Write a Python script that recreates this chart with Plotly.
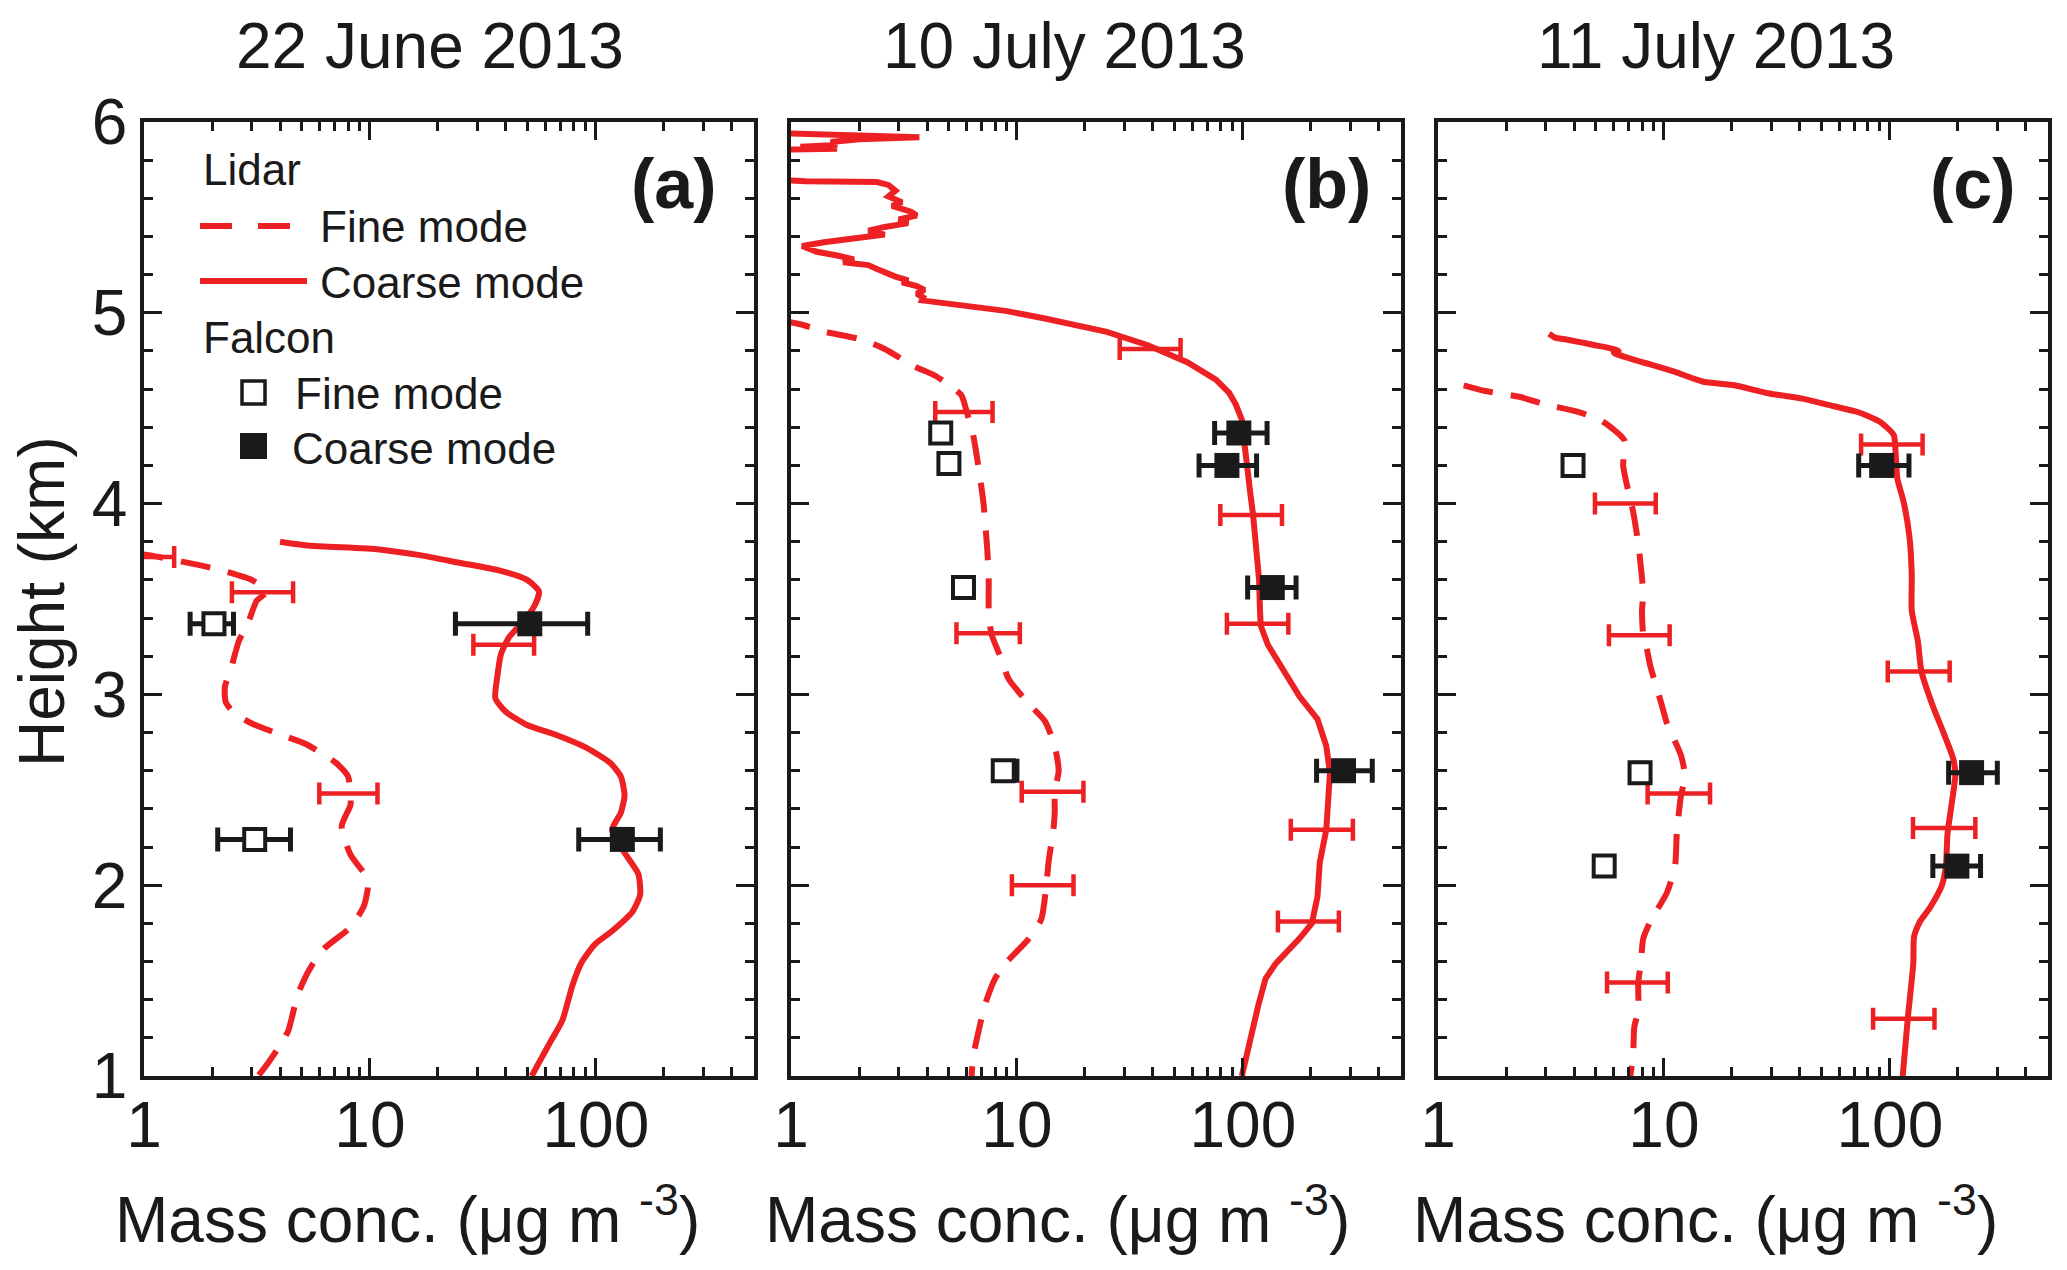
import plotly.graph_objects as go
from plotly.subplots import make_subplots

# ---- panel (a) 22 June 2013 ----
a_fine_x = [0.9, 1.05, 1.8, 2.2, 3.0, 3.5, 3.15, 2.9, 2.63, 2.42, 2.28, 2.3, 2.47, 2.97, 4.0, 5.2,
            7.1, 8.0, 8.2, 8.2, 7.5, 8.2, 9.7, 9.8, 9.4, 8.2, 6.3, 5.6, 5.0, 4.7, 4.36, 4.1, 3.55, 3.2]
a_fine_h = [3.74, 3.73, 3.675, 3.65, 3.6, 3.54, 3.49, 3.38, 3.28, 3.13, 3.04, 2.96, 2.91, 2.85, 2.79, 2.74,
            2.64, 2.57, 2.48, 2.42, 2.31, 2.16, 2.04, 1.99, 1.89, 1.78, 1.67, 1.59, 1.48, 1.39, 1.24, 1.18, 1.07, 1.0]
a_coarse_x = [4.0, 5.3, 11, 16.6, 24.9, 37.3, 49.6, 56, 53.8, 47.6, 41.3, 38, 36.6, 35.9, 39.8, 49.6, 66, 91,
              116, 129, 134, 129, 118, 134, 154, 157, 145, 118, 99, 86, 79, 71, 63, 56, 52]
a_coarse_h = [3.8, 3.78, 3.76, 3.73, 3.69, 3.65, 3.6, 3.54, 3.47, 3.38, 3.3, 3.21, 3.09, 2.98, 2.91, 2.84, 2.79, 2.72,
              2.64, 2.57, 2.47, 2.38, 2.29, 2.17, 2.06, 1.95, 1.86, 1.76, 1.69, 1.59, 1.48, 1.29, 1.18, 1.07, 1.0]
a_err_x = [1.05, 3.35, 39, 8.1]
a_err_lo = [0.8, 2.45, 28.7, 5.97]
a_err_hi = [1.36, 4.57, 53.3, 10.8]
a_err_h = [3.72, 3.535, 3.26, 2.48]
a_ffine_x = [2.04, 3.09]
a_ffine_lo = [1.6, 2.12]
a_ffine_hi = [2.49, 4.45]
a_ffine_h = [3.37, 2.24]
a_fcoarse_x = [51, 131]
a_fcoarse_lo = [23.9, 84]
a_fcoarse_hi = [92, 193]
a_fcoarse_h = [3.37, 2.24]

# ---- panel (b) 10 July 2013 ----
b_fine_x = [0.9, 1.1, 1.42, 2.05, 2.6, 3.5, 4.35, 5.66, 6.0, 6.4, 6.7, 7.1, 7.4, 7.5, 7.5, 7.7, 8.5, 9.2, 11.3,
            13.3, 14.7, 15.3, 14.7, 14.7, 14.5, 13.8, 13.5, 12.8, 11.3, 8.9, 8.0, 7.2, 6.9, 6.4, 6.3]
b_fine_h = [4.96, 4.94, 4.9, 4.86, 4.81, 4.72, 4.67, 4.57, 4.48, 4.36, 4.22, 4.01, 3.75, 3.6, 3.45, 3.32, 3.19, 3.08, 2.95,
            2.86, 2.73, 2.6, 2.49, 2.38, 2.29, 2.12, 2.0, 1.82, 1.72, 1.59, 1.51, 1.37, 1.28, 1.1, 1.0]
b_coarse_x = [0.5, 1.2, 2.5, 3.7, 2.0, 1.5, 1.6, 1.1, 1.6, 1.2, 0.5,
              0.5, 1.16, 2.4, 2.7, 2.9, 2.7, 3.1, 2.8, 3.4, 3.6, 3.0, 3.3, 2.6, 2.2, 2.6, 1.8, 1.4, 1.12,
              1.3, 1.6, 1.9, 1.7, 2.2, 2.4, 2.6, 2.9, 3.3, 3.1, 3.6, 3.9, 3.6, 3.85, 3.8, 5.4, 8.9, 13.3,
              25, 38, 57, 76, 87, 93, 99, 102, 105, 108, 111, 115, 118, 119, 120, 129, 152, 178, 214, 234,
              243, 238, 234, 219, 214, 202, 178, 140, 126, 117, 107, 99]
b_coarse_h = [5.95, 5.94, 5.93, 5.92, 5.91, 5.895, 5.88, 5.87, 5.86, 5.855, 5.85,
              5.71, 5.69, 5.685, 5.67, 5.64, 5.61, 5.58, 5.56, 5.53, 5.51, 5.49, 5.47, 5.45, 5.43, 5.41, 5.39, 5.37, 5.35,
              5.32, 5.3, 5.28, 5.265, 5.25, 5.23, 5.21, 5.19, 5.17, 5.16, 5.14, 5.12, 5.1, 5.08, 5.065, 5.04, 5.01, 4.97,
              4.9, 4.83, 4.74, 4.65, 4.58, 4.52, 4.44, 4.3, 4.2, 4.05, 3.94, 3.75, 3.6, 3.45, 3.36, 3.26, 3.12, 2.99, 2.87, 2.73,
              2.59, 2.38, 2.29, 2.12, 1.94, 1.8, 1.72, 1.59, 1.51, 1.37, 1.16, 1.0]
b_err_x = [39, 5.8, 109, 7.5, 116, 14.4, 224, 13, 195]
b_err_lo = [28.5, 4.35, 79.5, 5.4, 85, 10.5, 163, 9.5, 143]
b_err_hi = [53, 7.8, 149, 10.3, 159, 19.7, 307, 17.8, 266]
b_err_h = [4.81, 4.48, 3.94, 3.32, 3.37, 2.49, 2.29, 2.0, 1.81]
b_ffine_x = [4.6, 5.0, 5.8, 8.7]
b_ffine_lo = [4.4, 4.8, 5.4, 8.3]
b_ffine_hi = [4.8, 5.2, 6.4, 10.0]
b_ffine_h = [4.37, 4.21, 3.56, 2.6]
b_fcoarse_x = [96, 85, 135, 279]
b_fcoarse_lo = [75, 64, 105, 212]
b_fcoarse_hi = [128, 115, 172, 374]
b_fcoarse_h = [4.37, 4.2, 3.56, 2.6]

# ---- panel (c) 11 July 2013 ----
c_fine_x = [1.3, 1.62, 2.29, 2.98, 4.2, 5.37, 6.7, 6.6, 7.1, 7.3, 7.7, 7.9, 8.1, 8.0, 8.1, 8.4, 8.7, 9.7,
            10.3, 11.9, 12.4, 11.9, 11.4, 11.2, 10.3, 8.7, 8.1, 7.9, 7.7, 7.7, 7.4, 7.3, 7.1]
c_fine_h = [4.62, 4.59, 4.56, 4.52, 4.48, 4.43, 4.33, 4.2, 4.02, 3.96, 3.79, 3.67, 3.53, 3.44, 3.31, 3.24, 3.15, 2.96,
            2.85, 2.68, 2.57, 2.47, 2.27, 2.1, 1.96, 1.81, 1.72, 1.59, 1.49, 1.34, 1.26, 1.11, 1.0]
c_coarse_x = [3.1, 3.3, 3.7, 4.3, 4.95, 5.5, 6.3, 6.0, 7.1, 7.8, 8.7, 11.2, 14.8, 20.5, 28.4, 41, 56.6, 72, 90,
              104, 106, 108, 115, 122, 125, 125, 133, 138, 156, 170, 191, 195, 188, 180, 177, 170, 150, 136,
              128, 127, 120, 114]
c_coarse_h = [4.89, 4.87, 4.86, 4.845, 4.83, 4.82, 4.8, 4.79, 4.76, 4.745, 4.73, 4.69, 4.64, 4.62, 4.58, 4.55, 4.51,
              4.48, 4.43, 4.36, 4.27, 4.13, 4.01, 3.83, 3.63, 3.44, 3.28, 3.12, 2.93, 2.82, 2.66, 2.58, 2.43, 2.27,
              2.1, 2.0, 1.88, 1.81, 1.73, 1.59, 1.3, 1.0]
c_err_x = [102, 6.8, 7.8, 134, 11.6, 174, 7.6, 115]
c_err_lo = [74.6, 4.95, 5.71, 97.9, 8.47, 126.6, 5.6, 84.3]
c_err_hi = [139.6, 9.2, 10.6, 184, 16, 239, 10.4, 157.6]
c_err_h = [4.31, 4.0, 3.31, 3.12, 2.48, 2.3, 1.49, 1.3]
c_ffine_x = [3.96, 7.84, 5.44]
c_ffine_lo = [3.8, 7.5, 5.2]
c_ffine_hi = [4.1, 8.2, 5.7]
c_ffine_h = [4.2, 2.59, 2.1]
c_fcoarse_x = [92, 230, 198]
c_fcoarse_lo = [72.8, 182, 155]
c_fcoarse_hi = [121.5, 299, 252]
c_fcoarse_h = [4.2, 2.59, 2.1]

titles = ["22 June 2013", "10 July 2013", "11 July 2013"]
labels = ["(a)", "(b)", "(c)"]
x_ticks = [1, 10, 100]
x_minor = [2, 3, 4, 5, 6, 7, 8, 9, 20, 30, 40, 50, 60, 70, 80, 90, 200, 300, 400]

W, H = 2067, 1270
RED = "#ED2024"
BLK = "#1a1a1a"
FONT = "Liberation Sans, Arial, sans-serif"

panels = [
    (a_fine_x, a_fine_h, a_coarse_x, a_coarse_h, a_err_x, a_err_lo, a_err_hi, a_err_h,
     a_ffine_x, a_ffine_lo, a_ffine_hi, a_ffine_h, a_fcoarse_x, a_fcoarse_lo, a_fcoarse_hi, a_fcoarse_h),
    (b_fine_x, b_fine_h, b_coarse_x, b_coarse_h, b_err_x, b_err_lo, b_err_hi, b_err_h,
     b_ffine_x, b_ffine_lo, b_ffine_hi, b_ffine_h, b_fcoarse_x, b_fcoarse_lo, b_fcoarse_hi, b_fcoarse_h),
    (c_fine_x, c_fine_h, c_coarse_x, c_coarse_h, c_err_x, c_err_lo, c_err_hi, c_err_h,
     c_ffine_x, c_ffine_lo, c_ffine_hi, c_ffine_h, c_fcoarse_x, c_fcoarse_lo, c_fcoarse_hi, c_fcoarse_h),
]


def plus(c, hi):
    return [h - v for v, h in zip(c, hi)]


def minus(c, lo):
    return [v - l for v, l in zip(c, lo)]


def px(x):
    return x / W


def py(y):
    return 1 - y / H


fig = make_subplots(rows=1, cols=3)

for i, p in enumerate(panels, start=1):
    (fx, fh, cx, ch, ex, elo, ehi, eh,
     sfx, sflo, sfhi, sfh, scx, sclo, schi, sch) = p
    fig.add_trace(go.Scatter(x=fx, y=fh, mode="lines",
                             line=dict(color=RED, width=6, dash="30px,18px", shape="spline", smoothing=0.6)),
                  row=1, col=i)
    fig.add_trace(go.Scatter(x=cx, y=ch, mode="lines",
                             line=dict(color=RED, width=6, shape="linear" if i == 2 else "spline", smoothing=0.6)),
                  row=1, col=i)
    fig.add_trace(go.Scatter(x=ex, y=eh, mode="markers", marker=dict(size=1, color="rgba(0,0,0,0)"),
                             error_x=dict(type="data", symmetric=False, array=plus(ex, ehi),
                                          arrayminus=minus(ex, elo), color=RED, thickness=4.5, width=11)),
                  row=1, col=i)
    fig.add_trace(go.Scatter(x=sfx, y=sfh, mode="markers",
                             marker=dict(symbol="square", size=21, color="white", line=dict(color=BLK, width=4)),
                             error_x=dict(type="data", symmetric=False, array=plus(sfx, sfhi),
                                          arrayminus=minus(sfx, sflo), color=BLK, thickness=5, width=12)),
                  row=1, col=i)
    fig.add_trace(go.Scatter(x=scx, y=sch, mode="markers",
                             marker=dict(symbol="square", size=25, color=BLK, line=dict(width=0)),
                             error_x=dict(type="data", symmetric=False, array=plus(scx, schi),
                                          arrayminus=minus(scx, sclo), color=BLK, thickness=5, width=12)),
                  row=1, col=i)

domains = [(144, 754), (791, 1401), (1438, 2048)]
y_top, y_bot = 122, 1076
tickfont = dict(family=FONT, size=64, color=BLK)

for i, (l, r) in enumerate(domains, start=1):
    fig.update_xaxes(row=1, col=i, type="log", range=[0, 2.7], domain=[px(l), px(r)], automargin=False,
                     tickmode="array", tickvals=x_ticks, ticktext=[str(v) for v in x_ticks],
                     ticks="inside", ticklen=18, tickwidth=3, tickcolor=BLK, ticklabelstandoff=-10,
                     showline=True, linecolor=BLK, linewidth=3.5, mirror="ticks",
                     showgrid=False, zeroline=False, tickfont=tickfont,
                     minor=dict(ticks="inside", ticklen=9, tickwidth=3, tickcolor=BLK,
                                tickmode="array", tickvals=x_minor, showgrid=False))
    fig.update_yaxes(row=1, col=i, range=[1, 6], domain=[py(y_bot), py(y_top)], automargin=False,
                     tickmode="linear", tick0=0, dtick=1,
                     ticks="inside", ticklen=18, tickwidth=3, tickcolor=BLK,
                     showline=True, linecolor=BLK, linewidth=3.5, mirror="ticks",
                     showgrid=False, zeroline=False, tickfont=tickfont, showticklabels=(i == 1),
                     minor=dict(ticks="inside", ticklen=9, tickwidth=3, tickcolor=BLK,
                                dtick=0.2, showgrid=False))

ann = []
title_x = [430, 1064, 1716]
xlab_x = [407, 1057, 1705]
label_x = [719, 1373, 2018]
for i in range(3):
    ann.append(dict(text=titles[i], x=px(title_x[i]), y=py(46), xref="paper", yref="paper",
                    showarrow=False, xanchor="center", yanchor="middle",
                    font=dict(family=FONT, size=64, color=BLK)))
    ann.append(dict(text="Mass conc. (μg m <sup>-3</sup>)", x=px(xlab_x[i]), y=py(1215),
                    xref="paper", yref="paper", showarrow=False, xanchor="center", yanchor="middle",
                    font=dict(family=FONT, size=64, color=BLK)))
    ann.append(dict(text="<b>" + labels[i] + "</b>", x=px(label_x[i]), y=py(184), xref="paper", yref="paper",
                    showarrow=False, xanchor="right", yanchor="middle",
                    font=dict(family=FONT, size=70, color=BLK)))

ann.append(dict(text="Height (km)", x=px(42), y=py(602), xref="paper", yref="paper", textangle=-90,
                showarrow=False, xanchor="center", yanchor="middle",
                font=dict(family=FONT, size=64, color=BLK)))

# legend drawn inside panel (a)
leg_items = [("Lidar", 201, 170), ("Fine mode", 318, 226), ("Coarse mode", 318, 282),
             ("Falcon", 201, 337), ("Fine mode", 293, 393), ("Coarse mode", 290, 448)]
for txt, lx, ly in leg_items:
    ann.append(dict(text=txt, x=px(lx), y=py(ly), xref="paper", yref="paper", showarrow=False,
                    xanchor="left", yanchor="middle", font=dict(family=FONT, size=44, color=BLK)))

shapes = [
    dict(type="line", xref="paper", yref="paper", x0=px(200), x1=px(290), y0=py(226), y1=py(226),
         line=dict(color=RED, width=6, dash="32px,26px")),
    dict(type="line", xref="paper", yref="paper", x0=px(200), x1=px(307), y0=py(281), y1=py(281),
         line=dict(color=RED, width=6)),
    dict(type="rect", xref="paper", yref="paper", x0=px(242), x1=px(265), y0=py(404), y1=py(381),
         line=dict(color=BLK, width=3.5), fillcolor="white"),
    dict(type="rect", xref="paper", yref="paper", x0=px(240), x1=px(267), y0=py(459), y1=py(433),
         line=dict(color=BLK, width=0), fillcolor=BLK),
]

fig.update_layout(width=W, height=H, margin=dict(l=0, r=0, t=0, b=0), showlegend=False,
                  plot_bgcolor="white", paper_bgcolor="white", annotations=ann, shapes=shapes,
                  font=dict(family=FONT, color=BLK))

# drop the page's default body margin so the figure sits at the window corner
fig.write_html("out.html", config={"displayModeBar": False},
               post_script="document.body.style.margin = '0px';")
